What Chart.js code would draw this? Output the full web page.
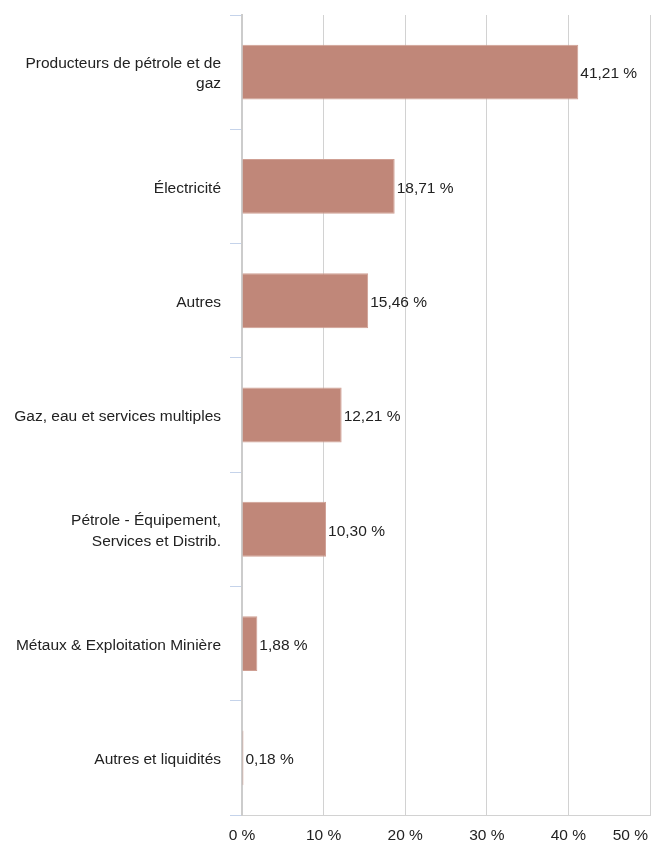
<!DOCTYPE html>
<html>
<head>
<meta charset="utf-8">
<script src="https://cdn.jsdelivr.net/npm/chart.js@4"></script>
<style>
  html, body { margin: 0; padding: 0; background: #fff; }
  #wrap { width: 652px; height: 845px; }
</style>
</head>
<body>
<div id="wrap"><canvas id="sectorChart" width="652" height="845"></canvas></div>
<script>
const categories = [
    ['Producteurs de pétrole et de', 'gaz'],
    'Électricité',
    'Autres',
    'Gaz, eau et services multiples',
    ['Pétrole - Équipement,', 'Services et Distrib.'],
    'Métaux & Exploitation Minière',
    'Autres et liquidités'
];
const weights = [41.21, 18.71, 15.46, 12.21, 10.30, 1.88, 0.18];
const tickValues = [0, 10, 20, 30, 40, 50];

const FONT = "'Liberation Sans', Arial, Helvetica, sans-serif";

function pct(v, digits) {
    return v.toFixed(digits).replace('.', ',') + ' %';
}

// value labels at the end of each bar
const barLabels = {
    id: 'barLabels',
    afterDatasetsDraw(chart) {
        const ctx = chart.ctx;
        const meta = chart.getDatasetMeta(0);
        ctx.save();
        ctx.font = '15.5px ' + FONT;
        ctx.fillStyle = '#222';
        ctx.textAlign = 'left';
        ctx.textBaseline = 'middle';
        meta.data.forEach(function(bar, i) {
            ctx.fillText(pct(weights[i], 2), bar.x + 2, bar.y + 2);
        });
        ctx.restore();
    }
};

// x tick labels, kept inside the canvas on the right edge
const xTickLabels = {
    id: 'xTickLabels',
    afterDraw(chart) {
        const ctx = chart.ctx;
        const scale = chart.scales.x;
        ctx.save();
        ctx.font = '15.5px ' + FONT;
        ctx.fillStyle = '#222';
        ctx.textBaseline = 'middle';
        ctx.textAlign = 'left';
        tickValues.forEach(function(v) {
            const txt = v + ' %';
            const w = ctx.measureText(txt).width;
            let x = scale.getPixelForValue(v) - w / 2;
            if (x + w > chart.width - 4) x = chart.width - 4 - w;
            ctx.fillText(txt, x, chart.chartArea.bottom + 21);
        });
        ctx.restore();
    }
};

const ctx = document.getElementById('sectorChart').getContext('2d');
const sectorChart = new Chart(ctx, {
    type: 'bar',
    data: {
        labels: categories,
        datasets: [{
            data: weights,
            backgroundColor: '#c08779',
            borderColor: '#cf9f93',
            borderWidth: 1,
            categoryPercentage: 0.8,
            barPercentage: 0.6
        }]
    },
    options: {
        indexAxis: 'y',
        responsive: false,
        animation: false,
        devicePixelRatio: 1,
        layout: { padding: { top: 15, right: 2, left: 0, bottom: 0 } },
        plugins: {
            legend: { display: false },
            tooltip: { enabled: false }
        },
        scales: {
            x: {
                min: 0,
                max: 50,
                afterBuildTicks: function(scale) {
                    scale.ticks = tickValues.map(v => ({ value: v }));
                },
                ticks: { display: false },
                grid: { color: '#d2d2d2', lineWidth: 1, drawTicks: false },
                border: { color: '#d2d2d2' },
                afterFit: function(scale) {
                    scale.height = 30;
                    scale.paddingLeft = 0;
                    scale.paddingRight = 0;
                }
            },
            y: {
                offset: true,
                ticks: {
                    color: '#222',
                    font: { family: FONT, size: 15.5, lineHeight: 1.3 },
                    padding: 9,
                    labelOffset: 2,
                    autoSkip: false
                },
                grid: {
                    offset: true,
                    drawOnChartArea: false,
                    drawTicks: true,
                    tickLength: 12,
                    color: '#c5d3ea'
                },
                border: { color: '#cccccc', width: 2 },
                afterFit: function(scale) {
                    scale.width = 242;
                    scale.paddingTop = 0;
                    scale.paddingBottom = 0;
                }
            }
        }
    },
    plugins: [barLabels, xTickLabels]
});
</script>
</body>
</html>
